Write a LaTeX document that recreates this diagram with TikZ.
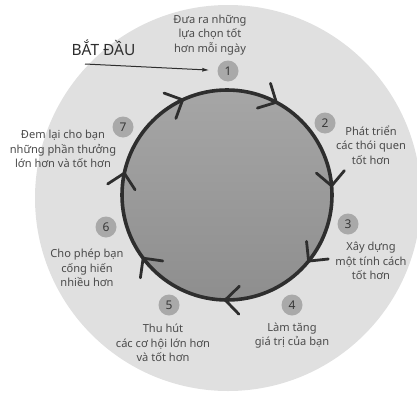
\documentclass[tikz,border=0pt]{standalone}
\usepackage{fontspec}
\setmainfont{Noto Sans}
\usetikzlibrary{arrows.meta}
\definecolor{outerfill}{HTML}{E0E0E0}
\definecolor{innertop}{HTML}{A6A6A6}
\definecolor{innerbot}{HTML}{8E8E8E}
\definecolor{ringline}{HTML}{2E2E2E}
\definecolor{numfill}{HTML}{A9A9A9}
\definecolor{numtext}{HTML}{383838}
\definecolor{labeltext}{HTML}{4A4A4A}
\begin{document}
\begin{tikzpicture}[x=1pt,y=1pt,
  numdot/.style={circle, fill=numfill, minimum size=21pt, inner sep=0pt,
    text=numtext, font=\bfseries\fontsize{12}{12}\selectfont},
  steplabel/.style={align=center, text=labeltext, inner sep=0pt,
    font=\fontsize{11.1}{14.6}\selectfont},
  chev/.style={draw=ringline, line width=2.8pt, line cap=round, line join=miter}
]
\useasboundingbox (0,0) rectangle (417,392);
\node[circle, fill=outerfill, minimum size=386pt, inner sep=0pt] (outer) at (228,194) {};
\node[circle, top color=innertop, bottom color=innerbot, draw=ringline,
      line width=3.6pt, minimum size=210pt, inner sep=0pt] (inner) at (227,197) {};
\foreach \a in {115,62,5,-39,-91,-143,168}{
  \begin{scope}[shift={(inner.center)}, rotate=\a]
    \draw[chev] (91,14) -- (105,0) -- (119,14);
  \end{scope}
}
\node[numdot] (n1) at (228,321) {1};
\node[numdot] (n2) at (325,269) {2};
\node[numdot] (n3) at (348,168) {3};
\node[numdot] (n4) at (292,87) {4};
\node[numdot] (n5) at (169,87) {5};
\node[numdot] (n6) at (106,165) {6};
\node[numdot] (n7) at (123,265) {7};
\node[steplabel] (t1) at (210,357) {Đưa ra những\\lựa chọn tốt\\hơn mỗi ngày};
\node[steplabel] (t2) at (371,247) {Phát triển\\các thói quen\\tốt hơn};
\node[steplabel] (t3) at (371,131) {Xây dựng\\một tính cách\\tốt hơn};
\node[steplabel] (t4) at (292,56.5) {Làm tăng\\giá trị của bạn};
\node[steplabel] (t5) at (163,49) {Thu hút\\các cơ hội lớn hơn\\và tốt hơn};
\node[steplabel] (t6) at (87,124) {Cho phép bạn\\cống hiến\\nhiều hơn};
\node[steplabel] (t7) at (63,243) {Đem lại cho bạn\\những phần thưởng\\lớn hơn và tốt hơn};
\node[text=ringline, font=\fontsize{15.5}{15.5}\selectfont, inner sep=0pt] (start) at (103.5,344) {BẮT ĐẦU};
\coordinate (s0) at (85,328);
\draw[ringline, line width=1pt, -{Latex[length=7pt,width=4pt]}, shorten >=8pt] (s0) -- (n1);
\end{tikzpicture}
\end{document}
